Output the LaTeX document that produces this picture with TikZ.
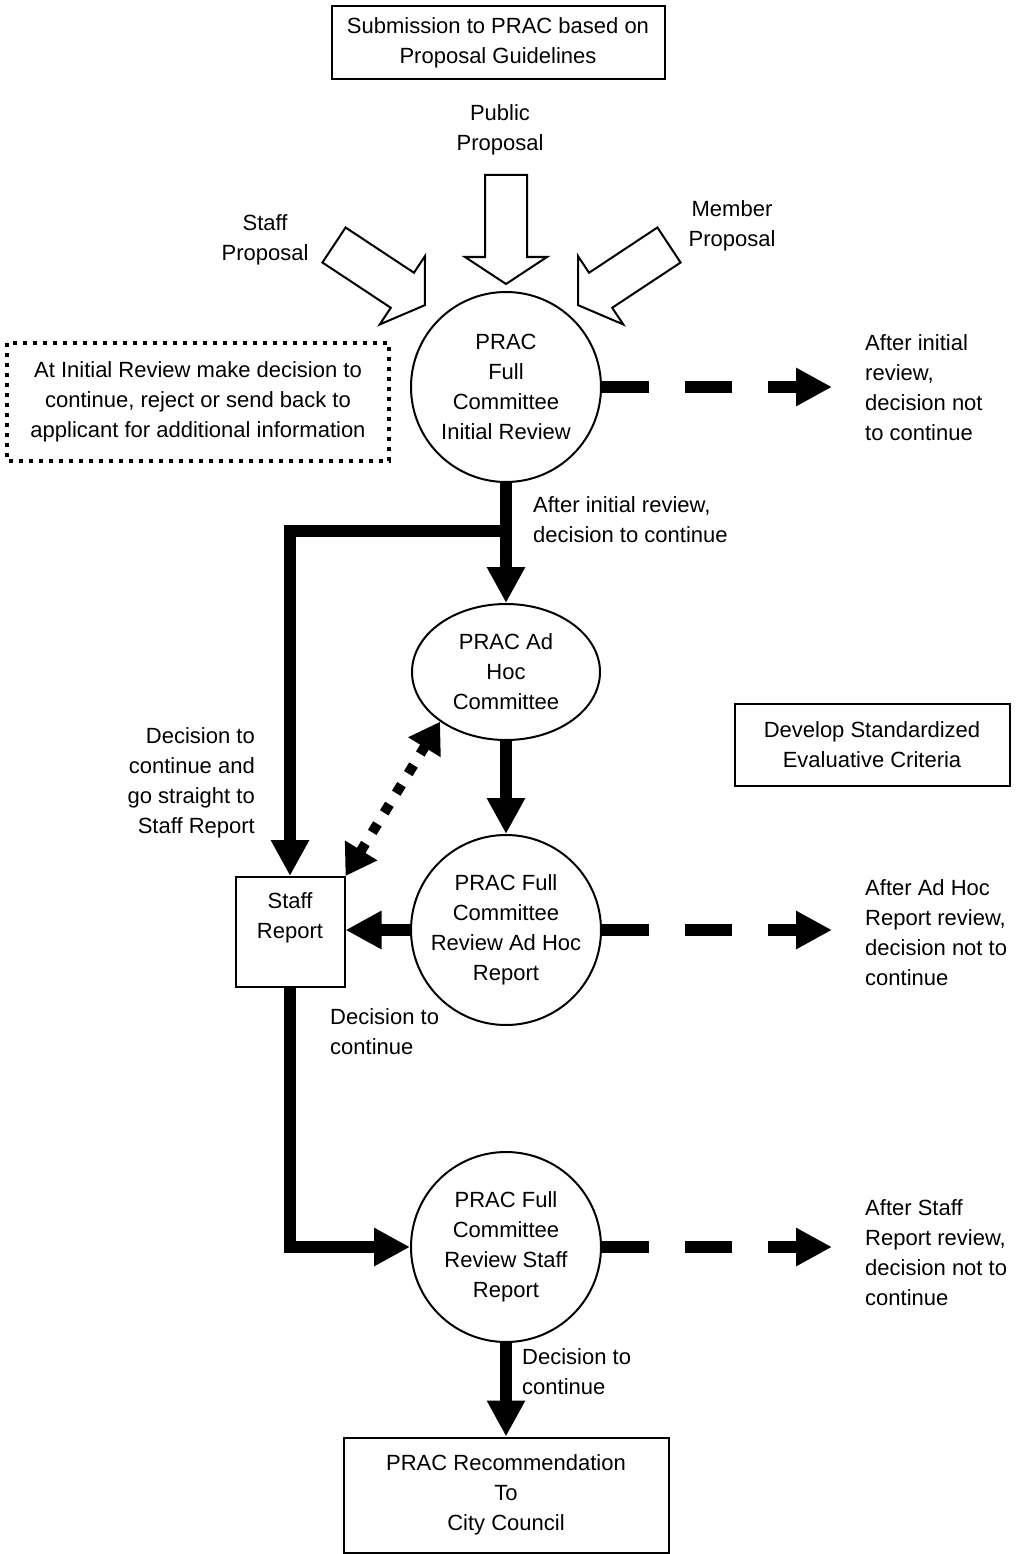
\documentclass[tikz,border=0pt]{standalone}
\usepackage{fontspec}
\setmainfont{Liberation Sans}
\usetikzlibrary{arrows.meta,shapes.geometric}

\tikzset{
    blockarrow/.pic={
        \draw[line width=2pt,line join=miter,fill=white] (0,-21) -- (82,-21) -- (82,-41) -- (109,0) -- (82,41) -- (82,21) -- (0,21) -- cycle;
    }
}

\begin{document}
\begin{tikzpicture}[x=1pt,y=-1pt,
    every node/.style={font=\fontsize{22}{30}\selectfont},
    box/.style={draw,line width=2pt,rectangle,align=center,inner sep=0pt},
    round/.style={draw,line width=2pt,circle,minimum size=190pt,align=center,inner sep=0pt},
    txt/.style={align=center,inner sep=0pt},
    flow/.style={line width=12pt,-{Triangle[length=36pt,width=36pt]}},
    dashflow/.style={flow,dash pattern=on 47pt off 36pt},
    dotflow/.style={line width=10pt,dash pattern=on 10pt off 13pt,{Triangle[length=30pt,width=36pt]}-{Triangle[length=30pt,width=36pt]}}]
    \useasboundingbox (0,0) rectangle (1021,1554);

    % Submission and the three proposals
    \node[box,minimum width=333pt,minimum height=73pt] (submit) at (498,43) {Submission to PRAC based on\\Proposal Guidelines};
    \node[txt] (pubtxt) at (500,130) {Public\\Proposal};
    \node[txt] (stafftxt) at (265,240) {Staff\\Proposal};
    \node[txt] (memtxt) at (732,226) {Member\\Proposal};
    \pic[rotate=-90] at (506,175) {blockarrow};
    \pic[rotate=-33.5] at (334,245) {blockarrow};
    \pic[rotate=-146.5] at (669,245) {blockarrow};

    % Main nodes
    \node[round] (init) at (506,387) {PRAC\\Full\\Committee\\Initial Review};
    \node[draw,line width=2pt,ellipse,minimum width=188pt,minimum height=136pt,align=center,inner sep=0pt] (adhoc) at (506,672) {PRAC Ad\\Hoc\\Committee};
    \node[round] (review) at (506,930) {PRAC Full\\Committee\\Review Ad Hoc\\Report};
    \node[round] (staffrev) at (506,1247) {PRAC Full\\Committee\\Review Staff\\Report};
    \node[box,minimum width=109pt,minimum height=110pt] (staff) at (290,932) {Staff\\Report\\[-6pt]\strut};
    \node[box,minimum width=325pt,minimum height=115pt] (rec) at (506,1495) {PRAC Recommendation\\To\\City Council};
    \node[box,minimum width=275pt,minimum height=82pt] (criteria) at (872,745) {Develop Standardized\\Evaluative Criteria};
    \node[box,draw=none,minimum width=380pt,minimum height=116pt] (note) at (198,402) {At Initial Review make decision to\\continue, reject or send back to\\applicant for additional information};
    \draw[line width=4pt,dash pattern=on 4pt off 6pt] (note.north west) rectangle (note.south east);

    % Connectors
    \coordinate (split) at (506,531);
    \draw[flow] (init.south) -- (adhoc.north);
    \draw[flow] (split) -| (staff.north);
    \draw[flow] (adhoc.south) -- (review.north);
    \draw[flow] (review.west) -- (review.west -| staff.east);
    \draw[dotflow] (staff.north east) -- (adhoc.217);
    \draw[flow] (staff.south) |- (staffrev.west);
    \draw[flow] (staffrev.south) -- (rec.north);

    % Rejections
    \coordinate (out1) at (832,387);
    \coordinate (out2) at (832,930);
    \coordinate (out3) at (832,1247);
    \draw[dashflow] (init.east) -- (out1);
    \draw[dashflow] (review.east) -- (out2);
    \draw[dashflow] (staffrev.east) -- (out3);

    % Labels
    \node[txt,anchor=west,align=left] (rej1) at (865,388) {After initial\\review,\\decision not\\to continue};
    \node[txt,anchor=west,align=left] (cont1) at (533,520) {After initial review,\\decision to continue};
    \node[txt,anchor=east,align=right] (straight) at (255,783) {Decision to\\continue and\\go straight to\\Staff Report};
    \node[txt,anchor=west,align=left] (rej2) at (865,933) {After Ad Hoc\\Report review,\\decision not to\\continue};
    \node[txt,anchor=west,align=left] (cont2) at (330,1032) {Decision to\\continue};
    \node[txt,anchor=west,align=left] (rej3) at (865,1253) {After Staff\\Report review,\\decision not to\\continue};
    \node[txt,anchor=west,align=left] (cont3) at (522,1372) {Decision to\\continue};
\end{tikzpicture}
\end{document}
